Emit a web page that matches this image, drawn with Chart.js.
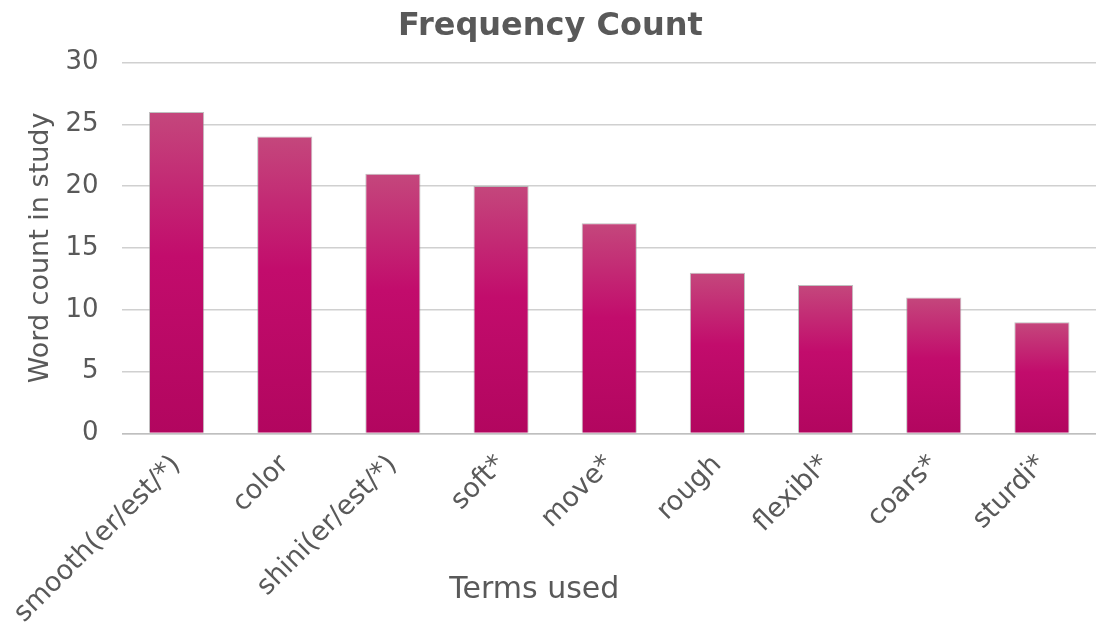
<!DOCTYPE html>
<html><head><meta charset="utf-8">
<script src="https://cdn.jsdelivr.net/npm/chart.js@4/dist/chart.umd.min.js"></script>
<style>html,body{margin:0;padding:0;background:#fff}#wrap{width:1096px;height:637px}</style>
</head><body><div id="wrap"><canvas id="c" width="1096" height="637"></canvas></div>
<script>
const categories = ["smooth(er/est/*)", "color", "shini(er/est/*)", "soft*", "move*", "rough", "flexibl*", "coars*", "sturdi*"];
const counts = [26, 24, 21, 20, 17, 13, 12, 11, 9];
const yTicks = [0, 5, 10, 15, 20, 25, 30];
const xTitle = "Terms used";
const FONT = "'DejaVu Sans', sans-serif";
const GRAY = "#595959";

function barFill(ctx) {
  const chart = ctx.chart;
  const ys = chart.scales && chart.scales.y;
  if (!chart.chartArea || !ys || ctx.type !== 'data') return "#c00a6a";
  const top = ys.getPixelForValue(counts[ctx.dataIndex]);
  const bottom = ys.getPixelForValue(0);
  if (!isFinite(top) || !isFinite(bottom)) return "#c00a6a";
  const g = chart.ctx.createLinearGradient(0, top, 0, bottom);
  g.addColorStop(0, "#c4477c");
  g.addColorStop(0.45, "#c20c6c");
  g.addColorStop(1, "#b2065f");
  return g;
}

const xTitlePlugin = {
  id: 'xTitle',
  afterDraw(chart) {
    const a = chart.chartArea, c = chart.ctx;
    c.save();
    c.font = "30px " + FONT;
    c.fillStyle = GRAY;
    c.textAlign = 'center';
    c.textBaseline = 'middle';
    c.fillText(xTitle, a.left + a.width * 0.423, a.bottom + 157);
    c.restore();
  }
};

new Chart(document.getElementById('c'), {
  type: 'bar',
  data: { labels: categories, datasets: [{ data: counts, backgroundColor: barFill, borderColor: 'rgba(150,150,150,0.6)', borderWidth: 1, categoryPercentage: 1, barPercentage: 0.51 }] },
  plugins: [xTitlePlugin],
  options: {
    responsive: false, animation: false,
    layout: { padding: { left: 5, right: 0, top: 0, bottom: 0 } },
    plugins: {
      legend: { display: false }, tooltip: { enabled: false },
      title: { display: true, text: 'Frequency Count', color: GRAY, font: { family: FONT, size: 32, weight: 'bold' }, padding: { top: 7, bottom: 17 } }
    },
    scales: {
      y: {
        min: 0, max: 30,
        afterBuildTicks: s => { s.ticks = yTicks.map(v => ({ value: v })); },
        ticks: { color: GRAY, font: { family: FONT, size: 26 }, padding: 24 },
        grid: { color: '#d0d0d0', lineWidth: 1.5, drawTicks: false },
        border: { display: false },
        title: { display: true, text: 'Word count in study', color: GRAY, font: { family: FONT, size: 27 }, padding: { top: 20, bottom: -16 } }
      },
      x: {
        ticks: { color: GRAY, font: { family: FONT, size: 27 }, maxRotation: 45, minRotation: 45, padding: 7.5 },
        grid: { display: false },
        border: { color: '#bfbfbf', width: 1.5 }
      }
    }
  }
});
</script></body></html>
